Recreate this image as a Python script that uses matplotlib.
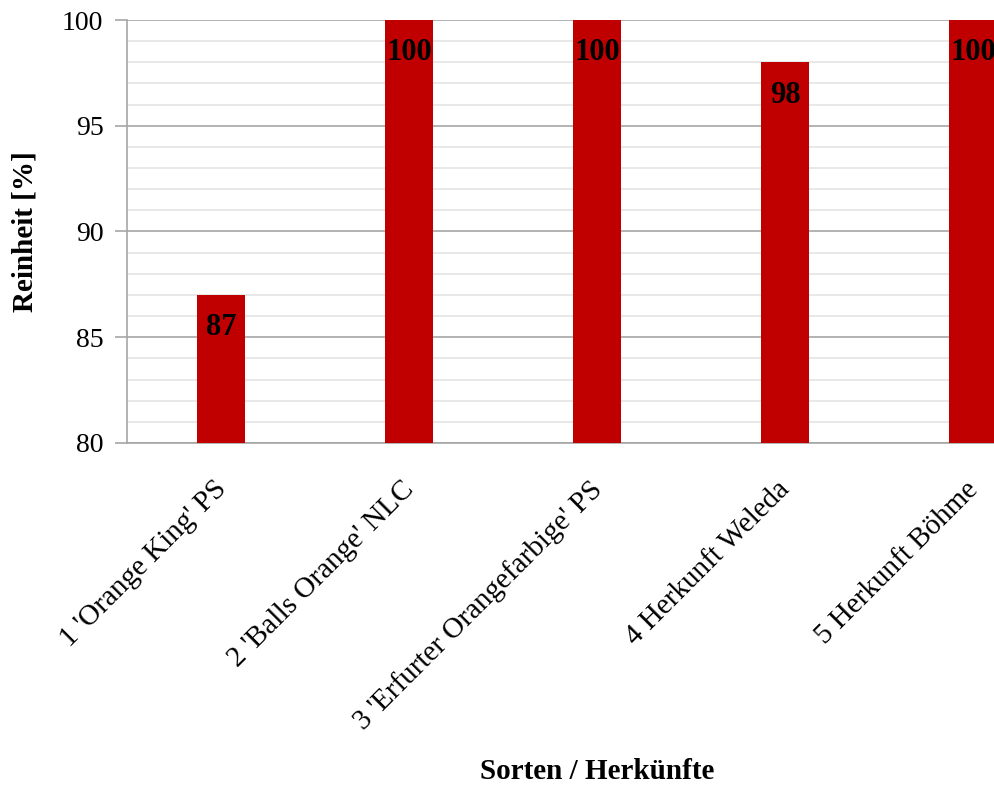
import matplotlib
matplotlib.use("Agg")
import matplotlib.pyplot as plt
from matplotlib.ticker import MultipleLocator
from matplotlib.transforms import ScaledTranslation

sorten = ["1 'Orange King' PS", "2 'Balls Orange' NLC", "3 'Erfurter Orangefarbige' PS",
          "4 Herkunft Weleda", "5 Herkunft Böhme"]
reinheit = [87, 100, 100, 98, 100]

plt.rcParams['font.family'] = ['Liberation Serif', 'DejaVu Serif']

fig = plt.figure(figsize=(9.94, 7.85), dpi=100)
# plot area runs past the right edge of the figure
ax = fig.add_axes([127 / 994, 1 - 443 / 785, 940 / 994, 423 / 785])

x = range(len(sorten))
ax.bar(x, reinheit, width=0.255, color='#C00000', zorder=3)

for i, v in enumerate(reinheit):
    ax.text(i, v - 1.55, str(v), ha='center', va='center', fontsize=22,
            fontweight='bold', zorder=4)

ax.set_xlim(-0.5, 4.5)
ax.set_ylim(80, 100)
ax.yaxis.set_major_locator(MultipleLocator(5))
ax.yaxis.set_minor_locator(MultipleLocator(1))
ax.grid(axis='y', which='major', color='#A6A6A6', linewidth=1.2, zorder=1)
ax.grid(axis='y', which='minor', color='#E4E4E4', linewidth=1.2, zorder=1)

ax.set_xticks(list(x))
ax.set_xticklabels(sorten, rotation=45, ha='right', rotation_mode='anchor', fontsize=21)
ax.tick_params(axis='x', length=0, pad=24)
shift = ScaledTranslation(-8 / 100, 0, fig.dpi_scale_trans)
for lab in ax.get_xticklabels():
    lab.set_transform(lab.get_transform() + shift)
ax.tick_params(axis='y', which='major', length=9, width=1.2, color='#A6A6A6',
               labelsize=20, pad=8)
ax.tick_params(axis='y', which='minor', length=0)

for s in ['top', 'right']:
    ax.spines[s].set_visible(False)
for s in ['left', 'bottom']:
    ax.spines[s].set_color('#A6A6A6')
    ax.spines[s].set_linewidth(1.2)

ax.set_ylabel('Reinheit [%]', fontsize=21, fontweight='bold')
ax.yaxis.set_label_coords(-89 / 940, 0.5)
fig.text(597 / 994, 1 - 779 / 785, 'Sorten / Herkünfte', ha='center', va='baseline',
         fontsize=21, fontweight='bold')

fig.savefig('out.png', dpi=100, facecolor='white')
